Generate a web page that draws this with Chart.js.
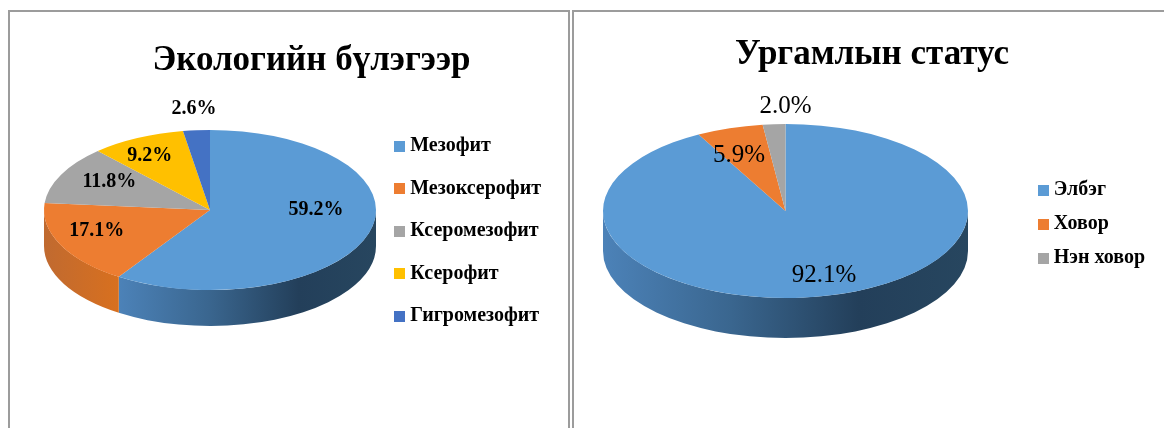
<!DOCTYPE html>
<html><head><meta charset="utf-8">
<script src="https://cdn.jsdelivr.net/npm/chart.js@4"></script>
<style>
html,body{margin:0;padding:0;background:#fff;width:1164px;height:428px;overflow:hidden;position:relative}
.frame{position:absolute;border:2px solid #9c9c9c;border-bottom:none;box-sizing:border-box}
canvas{position:absolute;top:0}
.box{position:absolute;top:0;height:428px}
</style></head><body>
<div class="frame" style="left:8px;top:10px;width:562px;height:418px"></div>
<div class="frame" style="left:572px;top:10px;width:600px;height:418px"></div>
<div class="box" style="left:0;width:551px"><canvas id="c1"></canvas></div>
<div class="box" style="left:572px;width:583px"><canvas id="c2"></canvas></div>
<script>
const titleEco = 'Экологийн бүлэгээр';
const categoriesEco = ['Мезофит','Мезоксерофит','Ксеромезофит','Ксерофит','Гигромезофит'];
const valuesEco = [59.2,17.1,11.8,9.2,2.6];
const colorsEco = ['#5b9bd5','#ed7d31','#a5a5a5','#ffc000','#4472c4'];

const titleStatus = 'Ургамлын статус';
const categoriesStatus = ['Элбэг','Ховор','Нэн ховор'];
const valuesStatus = [92.1,5.9,2.0];
const colorsStatus = ['#5b9bd5','#ed7d31','#a5a5a5'];

const FONT = '"Liberation Serif","Times New Roman",serif';
const sideStops = {
  '#5b9bd5':[[0,'#4c82b8'],[0.35,'#3a668f'],[0.7,'#233f5a'],[1,'#27465f']],
  '#ed7d31':[[0,'#c06a30'],[1,'#d8701f']]
};

function swatch(color,size){
  const c=document.createElement('canvas');c.width=size;c.height=size;
  const x=c.getContext('2d');x.fillStyle=color;x.fillRect(0,0,size,size);
  return c;
}

const pie3d = {
  id:'pie3d',
  afterLayout(chart,args,o){
    const r=o.rx;
    chart.chartArea.left=o.cx-r;chart.chartArea.right=o.cx+r;
    chart.chartArea.top=o.cy-r;chart.chartArea.bottom=o.cy+r;
    chart.chartArea.width=2*r;chart.chartArea.height=2*r;
  },
  beforeDatasetsDraw(chart,args,o){
    const ctx=chart.ctx, arcs=chart.getDatasetMeta(0).data, k=o.ry/o.rx;
    const colors=chart.data.datasets[0].backgroundColor;
    arcs.forEach((a,i)=>{
      const s=Math.max(a.startAngle,0), e=Math.min(a.endAngle,Math.PI);
      if(e<=s) return;
      const R=a.outerRadius, rr=R*k;
      const x1=a.x+R*Math.cos(s), x2=a.x+R*Math.cos(e);
      const lo=Math.min(x1,x2), hi=Math.max(x1,x2);
      const gr=ctx.createLinearGradient(lo,0,hi,0);
      (sideStops[colors[i]]||[[0,colors[i]],[1,colors[i]]]).forEach(p=>gr.addColorStop(p[0],p[1]));
      ctx.beginPath();
      ctx.ellipse(a.x,a.y,R,rr,0,s,e,false);
      ctx.ellipse(a.x,a.y+o.depth,R,rr,0,e,s,true);
      ctx.closePath();
      ctx.fillStyle=gr;ctx.fill();
    });
    ctx.save();
    ctx.translate(o.cx,o.cy);ctx.scale(1,k);ctx.translate(-o.cx,-o.cy);
  },
  afterDatasetsDraw(chart,args,o){
    const ctx=chart.ctx, arcs=chart.getDatasetMeta(0).data, k=o.ry/o.rx;
    ctx.restore();
    ctx.save();
    ctx.font=o.labelFont;ctx.fillStyle='#000';ctx.textAlign='center';ctx.textBaseline='middle';
    arcs.forEach((a,i)=>{
      const mid=(a.startAngle+a.endAngle)/2, [f,dx,dy]=o.place[i];
      const x=a.x+a.outerRadius*f*Math.cos(mid)+dx;
      const y=a.y+a.outerRadius*k*f*Math.sin(mid)+dy;
      ctx.fillText(chart.data.datasets[0].data[i].toFixed(1)+'%',x,y);
    });
    ctx.restore();
  }
};

function make(id,title,cats,vals,cols,opt){
  return new Chart(document.getElementById(id),{
    type:'pie',
    data:{labels:cats,datasets:[{data:vals,backgroundColor:cols,borderWidth:0,radius:opt.rx,clip:false}]},
    plugins:[pie3d],
    options:{
      responsive:true,maintainAspectRatio:false,animation:false,
      layout:{padding:opt.padding},
      plugins:{
        title:{display:true,text:title,color:'#000',font:{family:FONT,size:opt.titleSize,weight:'bold'},padding:opt.titlePad},
        legend:{position:'right',labels:{
          usePointStyle:true,pointStyleWidth:1,padding:opt.legendGap,color:'#000',
          font:{family:FONT,size:opt.legendSize,weight:'bold'},
          generateLabels(chart){
            return chart.data.labels.map((t,i)=>({text:t,index:i,fontColor:'#000',lineWidth:0,hidden:false,
              fillStyle:cols[i],strokeStyle:cols[i],pointStyle:swatch(cols[i],opt.box)}));
          }
        }},
        tooltip:{enabled:false},
        pie3d:opt
      }
    }
  });
}

make('c1',titleEco,categoriesEco,valuesEco,colorsEco,{
  cx:210,cy:210,rx:166,ry:80,depth:36,box:11,legendSize:20,legendGap:22.5,titleSize:35,
  titlePad:{top:6,bottom:32},padding:{left:72,right:0,top:34,bottom:0},
  labelFont:'bold 20px '+FONT,
  place:[[0.667,0,-15],[0.758,0,-6],[0.676,0,-4],[0.83,0,5.5],[1.18,0,-7]]
});
make('c2',titleStatus,categoriesStatus,valuesStatus,colorsStatus,{
  cx:213.5,cy:211,rx:182.5,ry:87,depth:40,box:11,legendSize:20,legendGap:14,titleSize:35,
  titlePad:{top:14,bottom:22},padding:{left:17,right:0,top:20,bottom:0},
  labelFont:'25px '+FONT,
  place:[[0.86,0,-8.5],[0.833,0,13],[1.22,14,1]]
});
</script></body></html>
